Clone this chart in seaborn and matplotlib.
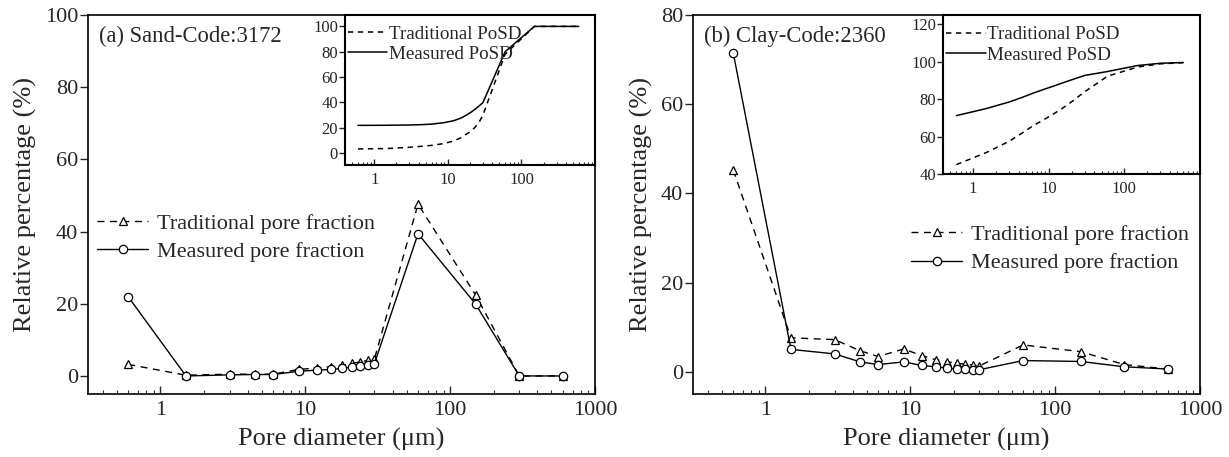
import numpy as np
import pandas as pd
import matplotlib
matplotlib.use("Agg")
import matplotlib.pyplot as plt
import seaborn as sns
from matplotlib.ticker import LogLocator, NullFormatter, FixedLocator, FixedFormatter

# pore size classes (um)
pore_diameter = [0.6, 1.5, 3, 4.5, 6, 9, 12, 15, 18, 21, 24, 27, 30, 60, 150, 300, 600]

# relative pore fraction (%)
sand_traditional = [3.2, 0.2, 0.5, 0.5, 0.5, 1.8, 2.2, 2.6, 3.0, 3.5, 3.9, 4.3, 4.7, 47.6, 22.4, 0.0, 0.0]
sand_measured = [21.9, 0.0, 0.3, 0.4, 0.4, 1.3, 1.6, 1.8, 2.1, 2.5, 2.8, 3.1, 3.4, 39.4, 19.9, 0.0, 0.0]
clay_traditional = [45.2, 7.6, 7.2, 4.7, 3.4, 5.1, 3.6, 2.7, 2.2, 1.9, 1.7, 1.5, 1.3, 6.0, 4.5, 1.6, 0.6]
clay_measured = [71.4, 5.0, 4.0, 2.2, 1.6, 2.2, 1.4, 1.1, 0.8, 0.6, 0.5, 0.45, 0.45, 2.5, 2.3, 1.1, 0.6]

# cumulative pore size distribution (inset, %)
sand_traditional_posd = [3.2, 3.5, 4.5, 5.3, 6.0, 7.5, 9.5, 12.0, 15.0, 17.5, 21.0, 25.0, 30.0, 78.0, 100, 100, 100]
sand_measured_posd = [21.8, 21.9, 22.1, 22.4, 22.8, 24.0, 25.5, 27.5, 30.0, 32.5, 35.0, 37.5, 39.8, 80.0, 100, 100, 100]
clay_traditional_posd = [45.0, 51.5, 57.5, 62.0, 65.4, 69.5, 72.5, 75.0, 77.2, 79.2, 81.0, 82.6, 84.0, 92.3, 97.2, 98.9, 99.5]
clay_measured_posd = [71.2, 75.0, 78.5, 81.0, 83.0, 85.5, 87.2, 88.6, 89.7, 90.6, 91.4, 92.1, 92.7, 94.8, 98.0, 99.2, 99.6]

panel_titles = ["(a) Sand-Code:3172", "(b) Clay-Code:2360"]

sns.set_style("ticks")
plt.rcParams["font.family"] = ["Liberation Serif", "DejaVu Serif"]

W, H = 1229, 457
fig = plt.figure(figsize=(W / 100, H / 100), dpi=100)


def px_axes(x0, y0, x1, y1):
    # rectangle in pixel coordinates (top-left origin)
    return fig.add_axes([x0 / W, 1 - y1 / H, (x1 - x0) / W, (y1 - y0) / H])


def style_log_x(ax, labels, size, major_len, minor_len):
    ax.set_xscale("log")
    ax.xaxis.set_major_locator(FixedLocator(labels))
    ax.xaxis.set_major_formatter(FixedFormatter([f"{v:g}" for v in labels]))
    ax.xaxis.set_minor_locator(LogLocator(base=10, subs=np.arange(2, 10)))
    ax.xaxis.set_minor_formatter(NullFormatter())
    ax.tick_params(axis="x", which="major", direction="in", length=major_len, width=1,
                   labelsize=size, pad=5)
    ax.tick_params(axis="x", which="minor", direction="in", length=minor_len, width=0.8)
    ax.tick_params(axis="y", which="major", direction="out", length=major_len, width=1,
                   labelsize=size, pad=1)
    for s in ax.spines.values():
        s.set_visible(True)
        s.set_linewidth(1.2)
        s.set_color("black")


panels = [
    dict(rect=(88, 15, 595, 394), inset=(345, 15, 595, 165), ylim=(-5, 100), yticks=range(0, 101, 20),
         trad=sand_traditional, meas=sand_measured, trad_c=sand_traditional_posd, meas_c=sand_measured_posd,
         iylim=(-9.5, 109), iyticks=range(0, 101, 20), leg=(0.018, 0.477)),
    dict(rect=(693, 15, 1200, 394), inset=(943, 15, 1200, 174), ylim=(-5, 80), yticks=range(0, 81, 20),
         trad=clay_traditional, meas=clay_measured, trad_c=clay_traditional_posd, meas_c=clay_measured_posd,
         iylim=(40, 125), iyticks=range(40, 121, 20), leg=(0.43, 0.447)),
]

for p, title in zip(panels, panel_titles):
    ax = px_axes(*p["rect"])
    sns.lineplot(x=pore_diameter, y=p["trad"], ax=ax, color="black", linestyle=(0, (5, 4)), lw=1,
                 marker="^", markersize=6, markerfacecolor="white", markeredgecolor="black",
                 markeredgewidth=0.9, label="Traditional pore fraction")
    sns.lineplot(x=pore_diameter, y=p["meas"], ax=ax, color="black", linestyle="-", lw=1,
                 marker="o", markersize=6, markerfacecolor="white", markeredgecolor="black",
                 markeredgewidth=0.9, label="Measured pore fraction")
    style_log_x(ax, [1, 10, 100, 1000], 16, 6, 3)
    ax.set_xlim(0.316, 1000)
    ax.set_ylim(*p["ylim"])
    ax.set_yticks(list(p["yticks"]))
    ax.set_xlabel("Pore diameter (μm)", fontsize=19, labelpad=6)
    ax.set_ylabel("Relative percentage (%)", fontsize=19, labelpad=6)
    ax.text(0.022, 0.972, title, transform=ax.transAxes, fontsize=16.3, va="top", ha="left")
    ax.legend(loc="upper left", bbox_to_anchor=p["leg"], frameon=False, fontsize=16,
              handlelength=2.3, handletextpad=0.4, labelspacing=0.35, borderpad=0, borderaxespad=0)

    ins = px_axes(*p["inset"])
    ins.set_facecolor("white")
    sns.lineplot(x=pore_diameter, y=p["trad_c"], ax=ins, color="black", linestyle=(0, (3.5, 3)), lw=1.1,
                 label="Traditional PoSD")
    sns.lineplot(x=pore_diameter, y=p["meas_c"], ax=ins, color="black", linestyle="-", lw=1.1,
                 label="Measured PoSD")
    style_log_x(ins, [1, 10, 100], 12, 4, 2)
    for s in ins.spines.values():
        s.set_linewidth(1.5)
    ins.set_xlim(0.4, 1000)
    ins.set_ylim(*p["iylim"])
    ins.set_yticks(list(p["iyticks"]))
    ins.set_xlabel("")
    ins.set_ylabel("")
    ins.legend(loc="upper left", bbox_to_anchor=(0.01, 0.93), frameon=False, fontsize=13.7,
               handlelength=2.1, handletextpad=0.1, labelspacing=0.15, borderpad=0, borderaxespad=0)

fig.savefig("out.png", dpi=100)
